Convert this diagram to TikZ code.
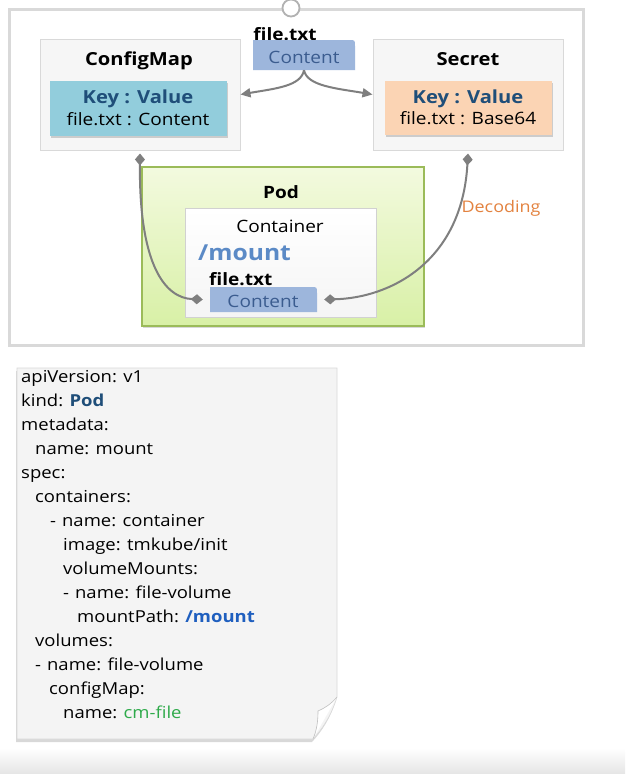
\documentclass[tikz,border=0pt]{standalone}
\usepackage{fontspec}
\setmainfont{Open Sans}[FakeStretch=1.12]
\usetikzlibrary{arrows.meta,shadows}
\definecolor{framegray}{HTML}{D9D9D9}
\definecolor{boxfill}{HTML}{F6F6F6}
\definecolor{cmfill}{HTML}{92CDDC}
\definecolor{secfill}{HTML}{FBD4B4}
\definecolor{keyblue}{HTML}{1F4E79}
\definecolor{tagblue}{HTML}{9DB6DC}
\definecolor{tagtext}{HTML}{3B5C8F}
\definecolor{podborder}{HTML}{9BBB59}
\definecolor{podtop}{HTML}{F3FADF}
\definecolor{podbot}{HTML}{D8F0A6}
\definecolor{mountblue}{HTML}{5B8AC6}
\definecolor{decor}{HTML}{E3823F}
\definecolor{conngray}{HTML}{7F7F7F}
\definecolor{notefill}{HTML}{F4F4F4}
\definecolor{yamlblue}{HTML}{1F5FBF}
\definecolor{yamlgreen}{HTML}{2EAA4A}
\newcommand\pxsize[1]{\fontsize{#1}{#1}\selectfont}
\begin{document}
\begin{tikzpicture}[x=1pt,y=-1pt,
  box/.style={draw=framegray, fill=boxfill, line width=1pt, inner sep=0pt},
  kvbox/.style={inner sep=0pt, drop shadow={shadow xshift=1pt, shadow yshift=-2pt, opacity=0.35}},
  title/.style={font=\pxsize{18}\bfseries, inner sep=0pt, anchor=base},
  txt/.style={font=\pxsize{17}, inner sep=0pt, anchor=base},
  tag/.style={inner sep=0pt,
    path picture={\fill[tagblue] (path picture bounding box.south west) -- (path picture bounding box.north west) -- ([xshift=-6pt]path picture bounding box.north east) .. controls (path picture bounding box.north east) .. ([yshift=-6pt]path picture bounding box.north east) -- (path picture bounding box.south east) -- cycle;}},
  tagtxt/.style={font=\pxsize{17}, text=tagtext, inner sep=0pt, anchor=base},
  conn/.style={draw=conngray, line width=2pt},
  dia/.style={{Diamond[length=12pt,width=10pt]}-{Diamond[length=12pt,width=10pt]}},
  yaml/.style={anchor=base west, inner sep=0pt, font=\pxsize{16.5}},
]
\useasboundingbox (0,0) rectangle (625,774);
\fill[white] (0,0) rectangle (625,774);
\shade[top color=white, bottom color=black!10] (0,748) rectangle (625,774);

% outer frame
\draw[framegray, line width=3pt] (9,9) rectangle (583,345);
\node[circle, draw=black!30, fill=white, line width=1.8pt, minimum size=17pt, inner sep=0pt] (knob) at (291,8) {};

% ConfigMap
\node[box, minimum width=200pt, minimum height=111pt] (cm) at (140,94.5) {};
\node[title] (cmt) at (139,65) {ConfigMap};
\node[kvbox, fill=cmfill, minimum width=177pt, minimum height=55pt] (cmkv) at (138.5,108.5) {};
\node[title, text=keyblue] (cmk) at (138,103) {Key : Value};
\node[txt] (cmv) at (138,125) {file.txt : Content};

% Secret
\node[box, minimum width=190pt, minimum height=111pt] (sec) at (468,94.5) {};
\node[title] (sect) at (468,65) {Secret};
\node[kvbox, fill=secfill, minimum width=167pt, minimum height=54pt] (seckv) at (468.5,108) {};
\node[title, text=keyblue] (seck) at (468,103) {Key : Value};
\node[txt] (secv) at (468,124) {file.txt : Base64};

% file tag on top
\node[font=\pxsize{17}\bfseries, inner sep=0pt, anchor=base] (ftitle) at (285,40) {file.txt};
\node[tag, minimum width=102pt, minimum height=30pt] (tag1) at (304,55) {};
\node[tagtxt] (tag1t) at (304,63) {Content};

% Pod
\node[draw=podborder, line width=1.5pt, top color=podtop, bottom color=podbot,
  minimum width=282pt, minimum height=159pt, inner sep=0pt,
  drop shadow={shadow xshift=1pt, shadow yshift=-2pt, opacity=0.3}] (pod) at (283,246.5) {};
\node[font=\pxsize{17}\bfseries, inner sep=0pt, anchor=base] (podt) at (281,198) {Pod};
\node[draw=black!18, line width=1pt, top color=white, bottom color=black!4,
  minimum width=191pt, minimum height=109pt, inner sep=0pt] (ctr) at (280.5,262.5) {};
\node[txt] (ctrt) at (280,232) {Container};
\node[font=\pxsize{22}\bfseries, text=mountblue, anchor=base west, inner sep=0pt] (mnt) at (198,260) {/mount};
\node[font=\pxsize{17}\bfseries, anchor=base west, inner sep=0pt] (ffile) at (209,285) {file.txt};
\node[tag, minimum width=107pt, minimum height=25pt] (tag2) at (263.5,299.5) {};
\node[tagtxt] (tag2t) at (263,307) {Content};

% arrows from file tag
\draw[conn, -{Triangle[length=10pt,width=9pt]}] (tag1.south) .. controls +(-3,16) and +(35,-6) .. (cm.east);
\draw[conn, -{Triangle[length=10pt,width=9pt]}] (tag1.south) .. controls +(3,16) and +(-35,-6) .. (sec.west);

% mount connectors
\draw[conn, dia] ([yshift=-3pt]cm.south) .. controls (139,265) and (165,298) .. ([xshift=-7pt]tag2.west);
\draw[conn, dia] ([yshift=-3pt]sec.south) .. controls (462,262) and (390,298) .. ([xshift=7pt]tag2.east);
\node[font=\pxsize{16}, text=decor, inner sep=0pt, anchor=base] (dec) at (501,212) {Decoding};

% YAML note
\path[fill=notefill, draw=black!15, line width=0.6pt,
  drop shadow={shadow xshift=-1pt, shadow yshift=-3pt, opacity=0.3}]
  (17,368) -- (337,368) -- (337,697) .. controls (331,716) and (323,728) .. (313,739) -- (17,739) -- cycle;
\path[fill=white, draw=black!25, line width=0.6pt]
  (313,739) .. controls (317,730) and (318,720) .. (318,711) .. controls (325,708) and (331,704) .. (337,697);
\node[yaml] (l1) at (21,382) {apiVersion: v1};
\node[yaml] (l2) at (21,406) {kind: {\bfseries\color{keyblue}Pod}};
\node[yaml] (l3) at (21,430) {metadata:};
\node[yaml] (l4) at (35,454) {name: mount};
\node[yaml] (l5) at (21,478) {spec:};
\node[yaml] (l6) at (35,502) {containers:};
\node[yaml] (l7) at (50,526) {-\hspace{6pt}name: container};
\node[yaml] (l8) at (63,550) {image: tmkube/init};
\node[yaml] (l9) at (63,574) {volumeMounts:};
\node[yaml] (l10) at (63,598) {-\hspace{6pt}name: file-volume};
\node[yaml] (l11) at (77,622) {mountPath: {\bfseries\color{yamlblue}/mount}};
\node[yaml] (l12) at (35,646) {volumes:};
\node[yaml] (l13) at (35,670) {-\hspace{6pt}name: file-volume};
\node[yaml] (l14) at (49,694) {configMap:};
\node[yaml] (l15) at (63,718) {name: {\color{yamlgreen}cm-file}};
\end{tikzpicture}
\end{document}
